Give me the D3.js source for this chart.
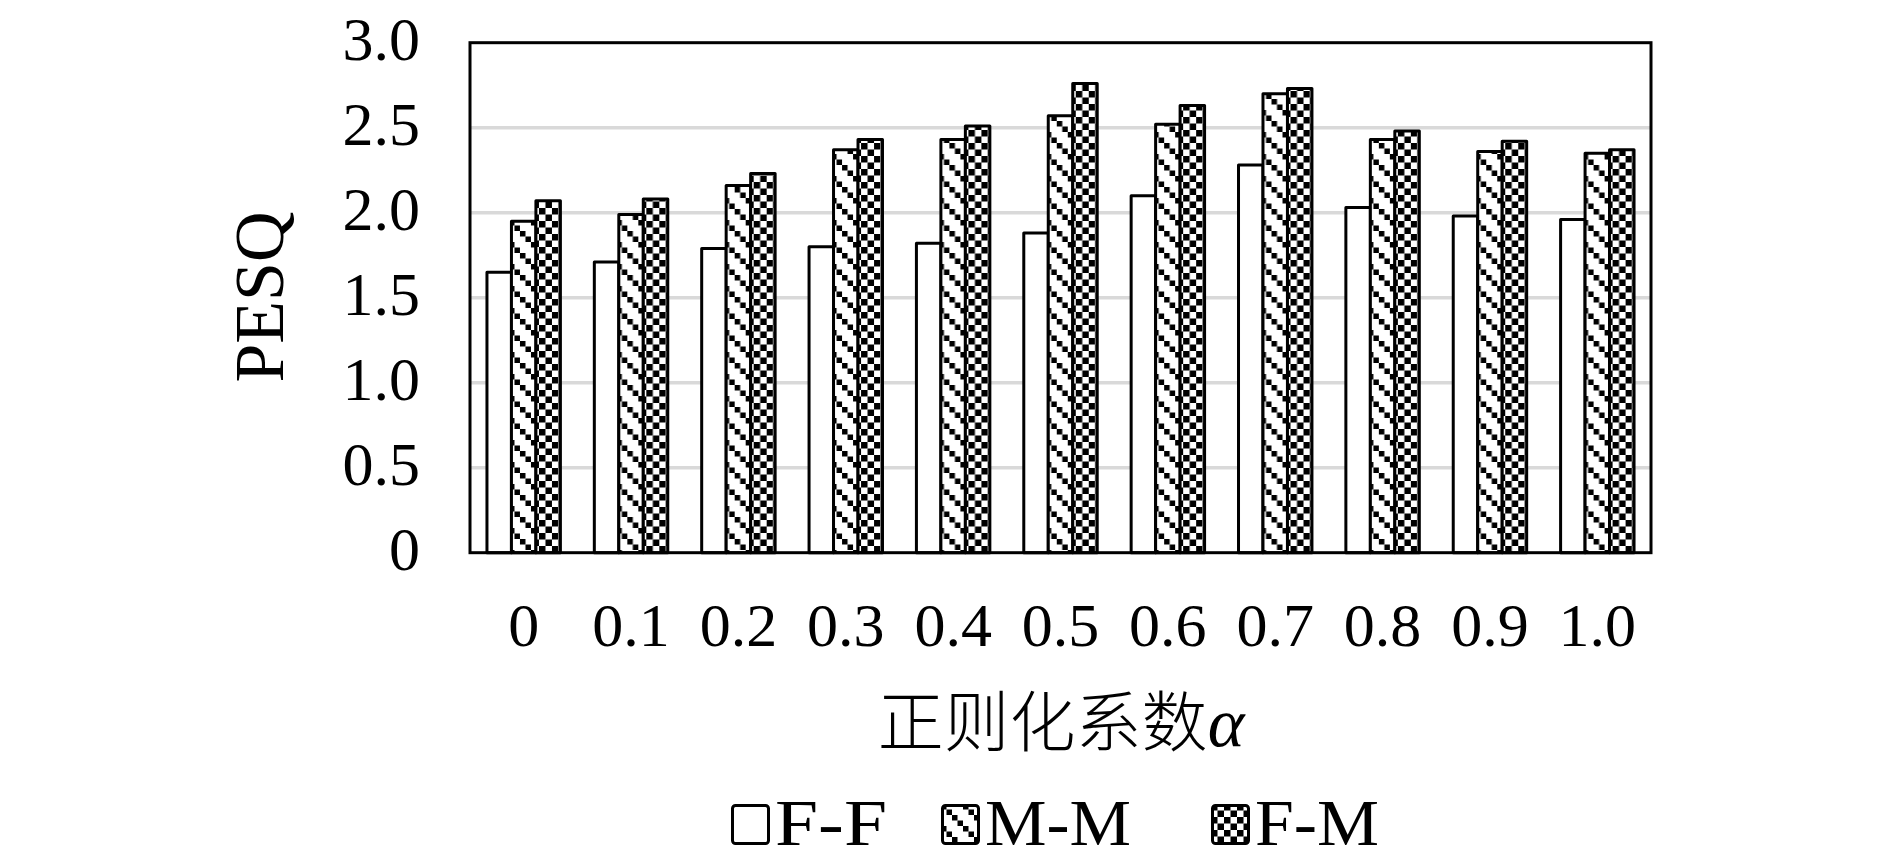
<!DOCTYPE html>
<html>
<head>
<meta charset="utf-8">
<script src="https://cdn.jsdelivr.net/npm/d3@7"></script>
<style>
  html, body { margin: 0; padding: 0; background: #fff; }
  svg { display: block; }
</style>
</head>
<body>
<script>
// ---- data ----
const categories = ["0", "0.1", "0.2", "0.3", "0.4", "0.5", "0.6", "0.7", "0.8", "0.9", "1.0"];
const seriesNames = ["F-F", "M-M", "F-M"];
const ffValues = [1.65, 1.71, 1.79, 1.80, 1.82, 1.88, 2.10, 2.28, 2.03, 1.98, 1.96];
const mmValues = [1.95, 1.99, 2.16, 2.37, 2.43, 2.57, 2.52, 2.70, 2.43, 2.36, 2.35];
const fmValues = [2.07, 2.08, 2.23, 2.43, 2.51, 2.76, 2.63, 2.73, 2.48, 2.42, 2.37];
const yTickValues = [0, 0.5, 1.0, 1.5, 2.0, 2.5, 3.0];
const yTickLabels = ["0", "0.5", "1.0", "1.5", "2.0", "2.5", "3.0"];
const yTitle = "PESQ";
const xTitle = "正则化系数";
const xTitleSymbol = "α";

const seriesValues = [ffValues, mmValues, fmValues];

// ---- layout ----
const W = 1890, H = 860;
const plot = { left: 470, right: 1651, top: 42.7, bottom: 552.7 };
const serif = "'Liberation Serif', 'Times New Roman', serif";
const cjk = "'Liberation Serif', 'Noto Sans CJK SC', serif";

const svg = d3.select("body").append("svg")
  .attr("width", W).attr("height", H)
  .attr("viewBox", `0 0 ${W} ${H}`);

// ---- patterns ----
const defs = svg.append("defs");
const dT = 22, dS = 5.5;
const diag = defs.append("pattern")
  .attr("id", "pat-diag").attr("patternUnits", "userSpaceOnUse")
  .attr("width", dT).attr("height", dT);
diag.append("rect").attr("width", dT).attr("height", dT).attr("fill", "#fff");
[0, 1, 2, 3].forEach(k => {
  diag.append("rect").attr("x", k * dS).attr("y", k * dS).attr("width", dS).attr("height", dS)
    .attr("fill", "#000");
});
const cT = 13;
const chk = defs.append("pattern")
  .attr("id", "pat-check").attr("patternUnits", "userSpaceOnUse")
  .attr("width", cT).attr("height", cT);
chk.append("rect").attr("width", cT).attr("height", cT).attr("fill", "#fff");
chk.append("rect").attr("x", 0).attr("y", 0).attr("width", cT / 2).attr("height", cT / 2).attr("fill", "#000");
chk.append("rect").attr("x", cT / 2).attr("y", cT / 2).attr("width", cT / 2).attr("height", cT / 2).attr("fill", "#000");
const fills = ["#fff", "url(#pat-diag)", "url(#pat-check)"];

// ---- scales ----
const x = d3.scaleBand().domain(categories)
  .range([plot.left, plot.right]).paddingInner(0.316).paddingOuter(0.158);
const xs = d3.scaleBand().domain(seriesNames).range([0, x.bandwidth()]);
const y = d3.scaleLinear().domain([0, 3]).range([plot.bottom, plot.top]);

// ---- gridlines ----
svg.append("g").selectAll("line")
  .data(yTickValues.filter(v => v > 0 && v < 3))
  .join("line")
  .attr("x1", plot.left).attr("x2", plot.right)
  .attr("y1", d => y(d)).attr("y2", d => y(d))
  .attr("stroke", "#d9d9d9").attr("stroke-width", 3.5);

// ---- bars ----
const groups = svg.append("g").selectAll("g")
  .data(categories).join("g")
  .attr("transform", d => `translate(${x(d)},0)`);
groups.selectAll("rect")
  .data((c, i) => seriesNames.map((s, j) => ({ s, j, v: seriesValues[j][i] })))
  .join("rect")
  .attr("x", d => xs(d.s))
  .attr("y", d => y(d.v))
  .attr("width", xs.bandwidth())
  .attr("height", d => y(0) - y(d.v))
  .attr("fill", d => fills[d.j])
  .attr("stroke", "#000").attr("stroke-width", 3)
  .attr("stroke-linejoin", "round");

// ---- frame ----
svg.append("rect")
  .attr("x", plot.left).attr("y", plot.top)
  .attr("width", plot.right - plot.left).attr("height", plot.bottom - plot.top)
  .attr("fill", "none").attr("stroke", "#000").attr("stroke-width", 3);

// ---- axes ----
const yAxis = d3.axisLeft(y).tickValues(yTickValues)
  .tickFormat((d, i) => yTickLabels[i]).tickSize(0).tickPadding(50);
const gy = svg.append("g").attr("transform", `translate(${plot.left},0)`).call(yAxis);
gy.select(".domain").remove();
gy.selectAll("text").attr("font-family", serif).attr("font-size", 62)
  .attr("fill", "#000").attr("dy", "0.27em");

const xAxis = d3.axisBottom(x).tickSize(0);
const gx = svg.append("g").attr("transform", `translate(0,${plot.bottom})`).call(xAxis);
gx.select(".domain").remove();
gx.selectAll("text").attr("font-family", serif).attr("font-size", 62)
  .attr("fill", "#000").attr("y", 93).attr("dy", 0);

// ---- titles ----
svg.append("text")
  .attr("transform", `translate(283,297) rotate(-90)`)
  .attr("text-anchor", "middle")
  .attr("font-family", serif).attr("font-size", 70).attr("fill", "#000")
  .text(yTitle);

const xt = svg.append("text")
  .attr("x", 1061).attr("y", 746)
  .attr("text-anchor", "middle")
  .attr("font-family", cjk).attr("font-size", 66).attr("font-weight", 300).attr("fill", "#000");
xt.append("tspan").text(xTitle);
xt.append("tspan").attr("font-family", serif).attr("font-style", "italic")
  .attr("font-weight", 400).attr("font-size", 70).text(xTitleSymbol);

// ---- legend ----
const legendX = [731, 941, 1211];
const legendTextW = [112, 146, 124];
const leg = svg.append("g").selectAll("g")
  .data(seriesNames).join("g")
  .attr("transform", (d, i) => `translate(${legendX[i]},804)`);
leg.append("rect")
  .attr("x", 1.5).attr("y", 1.5).attr("width", 36).attr("height", 38).attr("rx", 3)
  .attr("fill", (d, i) => fills[i]).attr("stroke", "#000").attr("stroke-width", 3);
leg.append("text")
  .attr("x", 44).attr("y", 41)
  .attr("font-family", serif).attr("font-size", 66).attr("fill", "#000")
  .attr("textLength", (d, i) => legendTextW[i]).attr("lengthAdjust", "spacingAndGlyphs")
  .text(d => d);
</script>
</body>
</html>
